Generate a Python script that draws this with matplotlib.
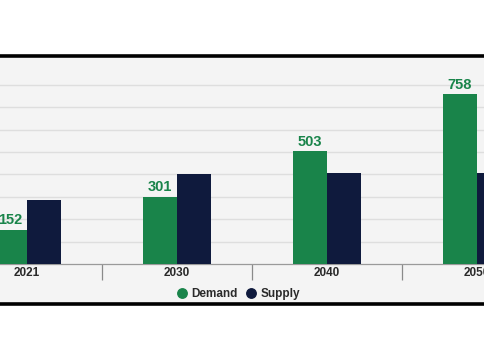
import matplotlib
matplotlib.use("Agg")
import matplotlib.pyplot as plt
from matplotlib.lines import Line2D
from matplotlib.patches import Rectangle

years = ["2021", "2030", "2040", "2050"]
demand = [152, 301, 503, 758]
supply = [288, 404, 408, 405]

green = "#19844a"
navy = "#0f1a3d"
W, H = 485, 360

plt.rcParams['font.family'] = ['Liberation Sans', 'DejaVu Sans']

fig = plt.figure(figsize=(W / 100, H / 100), dpi=100)
fig.patch.set_facecolor("white")

# panel background and the two black rules
fig.add_artist(Rectangle((0, 1 - 301.7 / H), 1, (301.7 - 57.7) / H,
                         transform=fig.transFigure, color="#f4f4f4", zorder=0))
for yy in (56.0, 303.5):
    fig.add_artist(Line2D([0, 1], [1 - yy / H] * 2, transform=fig.transFigure,
                          color="black", lw=2.6, zorder=1))

ax = fig.add_axes([0, 1 - 264 / H, 1, (264 - 57.7) / H])
ax.set_facecolor("none")

x = list(range(len(years)))
w = 0.229
ax.bar([i - w / 2 for i in x], demand, w, color=green, zorder=3)
ax.bar([i + w / 2 for i in x], supply, w, color=navy, zorder=3)

for i, v in zip(x, demand):
    ax.text(i - w / 2, v + 12, str(v), ha="center", va="bottom",
            color=green, fontsize=10.5, fontweight="bold", zorder=4)

ax.set_xlim(-27 / 150, 458 / 150)
ax.set_ylim(0, 922)
ax.set_yticks(range(100, 900, 100))
ax.grid(axis="y", color="#dedede", lw=1, zorder=1)
ax.tick_params(axis="y", left=False, labelleft=False)

ax.set_xticks(x)
ax.set_xticklabels(years, fontsize=8.5, fontweight="bold", color="#2a2a2a")
ax.set_xticks([i + 0.5 for i in x[:-1]], minor=True)
ax.tick_params(axis="x", which="major", length=0, pad=2.5)
ax.tick_params(axis="x", which="minor", length=11.5, color="#8a8a8a", width=0.9)

for s in ("top", "left", "right"):
    ax.spines[s].set_visible(False)
ax.spines["bottom"].set_color("#9a9a9a")
ax.spines["bottom"].set_linewidth(0.9)

handles = [
    Line2D([], [], marker="o", ls="none", color=green, markersize=6.8),
    Line2D([], [], marker="o", ls="none", color=navy, markersize=6.8),
]
leg = fig.legend(handles, ["Demand", "Supply"], loc="center",
                 bbox_to_anchor=(0.493, 1 - 294 / H), ncol=2, frameon=False,
                 handlelength=0.6, handletextpad=0.5, columnspacing=0.8,
                 prop={"size": 8.5, "weight": "bold"})
for t in leg.get_texts():
    t.set_color("#2a2a2a")

fig.savefig("out.png", dpi=100)
